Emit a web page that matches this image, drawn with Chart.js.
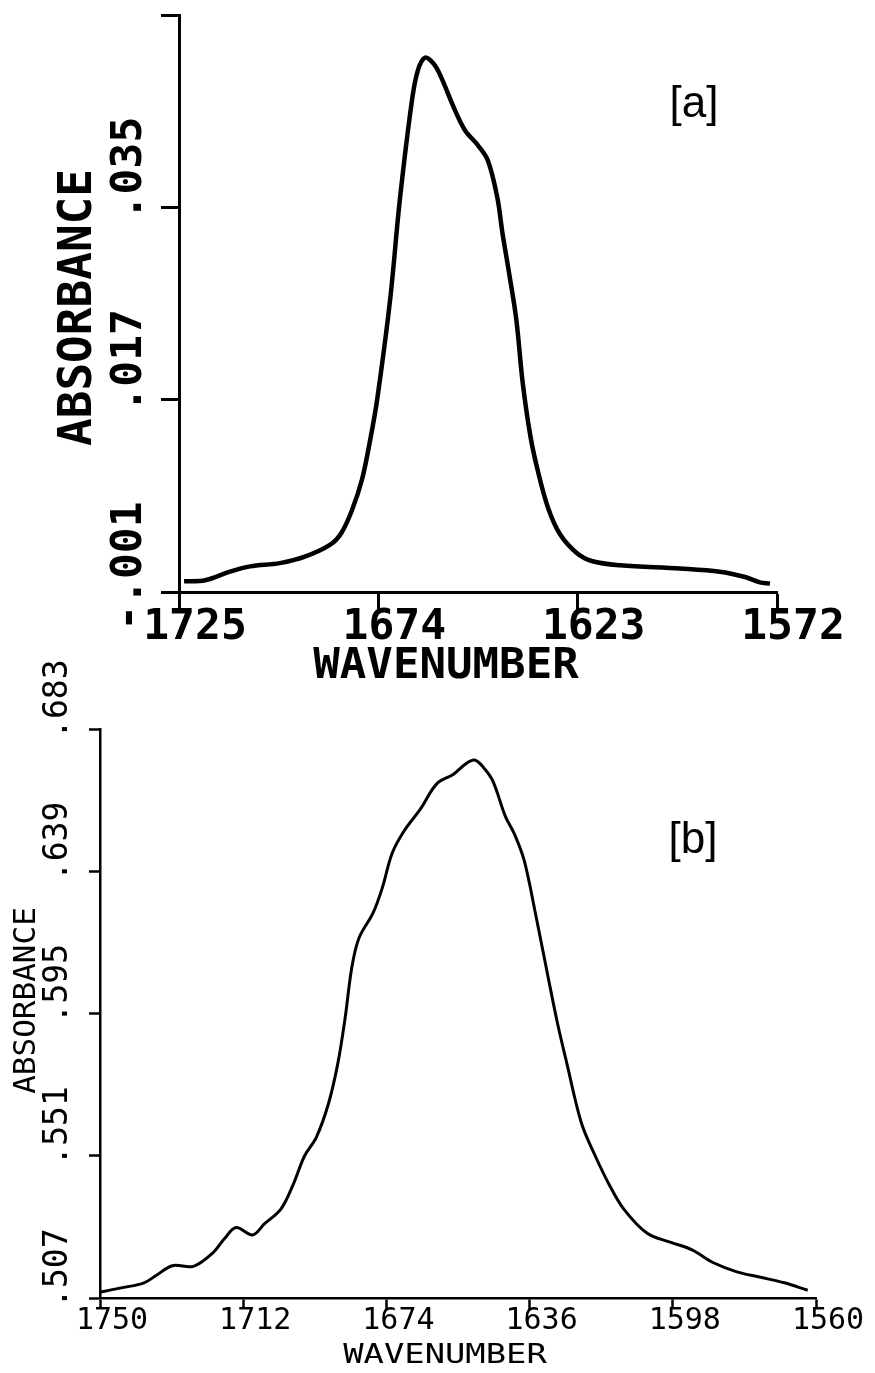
<!DOCTYPE html>
<html>
<head>
<meta charset="utf-8">
<script src="https://cdn.jsdelivr.net/npm/chart.js@4.4.1/dist/chart.umd.min.js"></script>
<style>
  html, body { margin: 0; padding: 0; background: #fff; }
  #wrap { position: relative; width: 875px; height: 1373px; }
  canvas { position: absolute; left: 0; }
</style>
</head>
<body>
<div id="wrap">
  <canvas id="chart-a" width="875" height="690" style="top:0"></canvas>
  <canvas id="chart-b" width="875" height="733" style="top:640px"></canvas>
</div>
<script>
// panel [a]
const wavenumber_a = [1723.7, 1718.3, 1712, 1706.8, 1699.2, 1692.8, 1686.4, 1683.5, 1680.8, 1678.2, 1676.1, 1674.3, 1671, 1668.5, 1665.4, 1663.9, 1662.1, 1660, 1658.2, 1654.4, 1651.8, 1648.5, 1646, 1643.6, 1642.2, 1640.7, 1638.7, 1637.1, 1635.1, 1633.1, 1630.5, 1627.5, 1623.4, 1619.4, 1612.2, 1596.8, 1586.6, 1580.2, 1576.4, 1573.8];
const absorbance_a = [0.0000, 0.0001, 0.0009, 0.0014, 0.0017, 0.0023, 0.0034, 0.0045, 0.0066, 0.0095, 0.0132, 0.0170, 0.0263, 0.0357, 0.0450, 0.0478, 0.0490, 0.0485, 0.0474, 0.0441, 0.0422, 0.0408, 0.0394, 0.0360, 0.0325, 0.0292, 0.0245, 0.0187, 0.0136, 0.0102, 0.0068, 0.0044, 0.0027, 0.0019, 0.0015, 0.0012, 0.0009, 0.0004, -0.0001, -0.0002];
const x_ticks_a = [1725, 1674, 1623, 1572];
const y_ticks_a = [-0.001, 0.017, 0.035, 0.053];
const y_labels_a = ['-.001', '.017', '.035', ''];

// panel [b]
const wavenumber_b = [1750, 1744, 1738.3, 1735.2, 1730.8, 1725.2, 1720.2, 1717, 1713.9, 1709.5, 1706.4, 1702, 1698.8, 1695.7, 1692.6, 1689.4, 1686.9, 1685, 1683.2, 1681.3, 1677.5, 1675, 1672.5, 1669.4, 1665, 1660.6, 1656.2, 1653, 1650.6, 1648.3, 1645.8, 1642.4, 1639.9, 1637.4, 1634.3, 1631.2, 1628.6, 1626.1, 1622.3, 1618.6, 1614.8, 1611, 1604.8, 1598.5, 1592.9, 1587.2, 1581, 1574.7, 1568.4, 1562.2];
const absorbance_b = [0.5088, 0.5102, 0.5117, 0.5139, 0.5170, 0.5168, 0.5208, 0.5253, 0.5288, 0.5265, 0.5299, 0.5345, 0.5419, 0.5510, 0.5567, 0.5670, 0.5795, 0.5932, 0.6091, 0.6183, 0.6262, 0.6342, 0.6445, 0.6513, 0.6582, 0.6661, 0.6690, 0.6722, 0.6734, 0.6712, 0.6670, 0.6559, 0.6502, 0.6422, 0.6251, 0.6069, 0.5920, 0.5795, 0.5613, 0.5510, 0.5419, 0.5345, 0.5270, 0.5242, 0.5219, 0.5179, 0.5151, 0.5134, 0.5117, 0.5094];
const x_ticks_b = [1750, 1712, 1674, 1636, 1598, 1560];
const y_ticks_b = [0.507, 0.551, 0.595, 0.639, 0.683];
const y_labels_b = ['.507', '.551', '.595', '.639', '.683'];

const MONO = '"DejaVu Sans Mono", monospace';

// draws text centred at (x, y), rotated and stretched along its length
function put_text(ctx, txt, x, y, rot, stretch, align) {
    ctx.save();
    ctx.translate(x, y);
    ctx.rotate(rot);
    ctx.scale(stretch, 1);
    ctx.textAlign = align;
    ctx.fillText(txt, 0, 0);
    ctx.restore();
}

// rotated y labels, axis titles and the panel tag
const side_text = {
    id: 'side_text',
    afterDraw(chart, args, opts) {
        const ctx = chart.ctx;
        const ys = chart.scales.y;
        const area = chart.chartArea;
        ctx.save();
        ctx.fillStyle = '#000';
        ctx.textBaseline = 'middle';

        ctx.font = opts.tick_font;
        opts.labels.forEach((lab, i) => {
            if (!lab) return;
            const py = ys.getPixelForValue(opts.values[i]);
            const dot = lab.indexOf('.');
            const lead = ctx.measureText(lab.slice(0, dot)).width + ctx.measureText('.').width / 2;
            ctx.save();
            ctx.translate(opts.tick_x, py);
            ctx.rotate(-Math.PI / 2);
            ctx.textAlign = 'left';
            ctx.fillText(lab, -lead, 0);
            ctx.restore();
        });

        ctx.font = opts.ytitle_font;
        put_text(ctx, 'ABSORBANCE', opts.ytitle_x, (area.top + area.bottom) / 2 + opts.ytitle_dy,
            -Math.PI / 2, opts.ytitle_stretch, 'center');

        ctx.font = opts.xtitle_font;
        put_text(ctx, 'WAVENUMBER', opts.xtitle_x, opts.xtitle_y, 0, opts.xtitle_stretch, 'center');

        ctx.font = opts.tag_font;
        put_text(ctx, opts.tag, opts.tag_x, opts.tag_y, 0, 1, 'center');
        ctx.restore();
    }
};

function make_chart(canvas_id, p) {
    const el = document.getElementById(canvas_id);
    const W = el.width, H = el.height;
    const points = p.xs.map((w, i) => ({ x: w, y: p.ys[i] }));

    return new Chart(el.getContext('2d'), {
        type: 'line',
        data: {
            datasets: [{
                data: points,
                borderColor: '#000',
                borderWidth: p.line_w,
                pointRadius: 0,
                tension: 0.35,
                fill: false
            }]
        },
        options: {
            responsive: false,
            animation: false,
            layout: {
                padding: { left: 0, top: p.area.top, right: W - p.area.right, bottom: 0 }
            },
            scales: {
                x: {
                    type: 'linear',
                    reverse: true,
                    min: p.x_min,
                    max: p.x_max,
                    afterBuildTicks: (scale) => { scale.ticks = p.x_ticks.map(v => ({ value: v })); },
                    afterFit: (scale) => { scale.height = H - p.area.bottom; },
                    ticks: {
                        autoSkip: false,
                        maxRotation: 0,
                        minRotation: 0,
                        color: '#000',
                        font: p.x_font,
                        padding: p.x_pad,
                        labelOffset: p.x_label_offset,
                        callback: (v) => String(v)
                    },
                    grid: { drawOnChartArea: false, color: '#000', tickLength: p.tick_len, tickWidth: p.axis_w },
                    border: { color: '#000', width: p.axis_w }
                },
                y: {
                    type: 'linear',
                    min: p.y_ticks[0],
                    max: p.y_ticks[p.y_ticks.length - 1],
                    afterBuildTicks: (scale) => { scale.ticks = p.y_ticks.map(v => ({ value: v })); },
                    afterFit: (scale) => { scale.width = p.area.left; },
                    ticks: { display: false },
                    grid: { drawOnChartArea: false, color: '#000', tickLength: p.tick_len, tickWidth: p.axis_w },
                    border: { color: '#000', width: p.axis_w }
                }
            },
            plugins: {
                legend: { display: false },
                tooltip: { enabled: false },
                side_text: p.text
            }
        },
        plugins: [side_text]
    });
}

make_chart('chart-a', {
    xs: wavenumber_a, ys: absorbance_a,
    x_min: 1572, x_max: 1725, x_ticks: x_ticks_a, y_ticks: y_ticks_a,
    area: { left: 179, right: 777, top: 15, bottom: 592 },
    line_w: 4.5, axis_w: 3, tick_len: 18,
    x_font: { family: MONO, size: 43, weight: 'bold', lineHeight: 1 },
    x_pad: -4, x_label_offset: 16,
    text: {
        labels: y_labels_a, values: y_ticks_a,
        tick_font: 'bold 43px ' + MONO, tick_x: 130,
        ytitle_font: 'bold 46px ' + MONO, ytitle_x: 79, ytitle_dy: 4, ytitle_stretch: 1,
        xtitle_font: 'bold 42px ' + MONO, xtitle_x: 446, xtitle_y: 667, xtitle_stretch: 1.05,
        tag: '[a]', tag_font: '44px "Liberation Sans", Arial, sans-serif', tag_x: 694, tag_y: 105
    }
});

make_chart('chart-b', {
    xs: wavenumber_b, ys: absorbance_b,
    x_min: 1560, x_max: 1750, x_ticks: x_ticks_b, y_ticks: y_ticks_b,
    area: { left: 100, right: 816, top: 89, bottom: 658 },
    line_w: 3, axis_w: 2.5, tick_len: 11,
    x_font: { family: MONO, size: 30, lineHeight: 1 },
    x_pad: -3, x_label_offset: 12,
    text: {
        labels: y_labels_b, values: y_ticks_b,
        tick_font: '33px ' + MONO, tick_x: 58,
        ytitle_font: '31px ' + MONO, ytitle_x: 27, ytitle_dy: -13, ytitle_stretch: 1,
        xtitle_font: '26px ' + MONO, xtitle_x: 445, xtitle_y: 716, xtitle_stretch: 1.3,
        tag: '[b]', tag_font: '44px "Liberation Sans", Arial, sans-serif', tag_x: 693, tag_y: 201
    }
});
</script>
</body>
</html>
